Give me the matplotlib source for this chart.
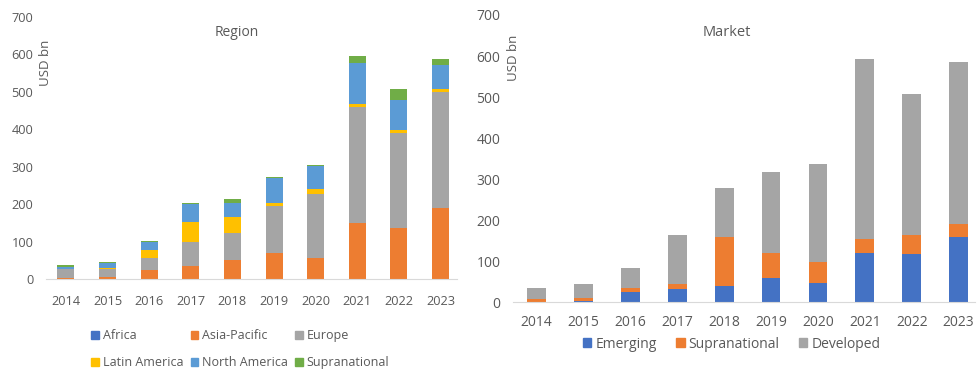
import numpy as np
from matplotlib import pyplot as plt
from matplotlib.patches import Patch

plt.rcParams['font.family'] = ['Open Sans', 'DejaVu Sans']

years = ['2014', '2015', '2016', '2017', '2018', '2019', '2020', '2021', '2022', '2023']

# issuance by region, USD bn
africa = [0.5, 0.5, 0.5, 0.5, 0.5, 0.5, 0.5, 1, 1, 1]
asia_pacific = [2, 5, 25, 34, 50, 69, 56, 149, 137, 189]
europe = [24, 23, 32, 66, 74, 127, 171, 308, 251, 310]
latin_america = [0.5, 0.5, 21, 51, 41, 8, 12, 8, 8, 7]
north_america = [7, 15, 20, 50, 39, 65, 62, 110, 82, 65]
supranational_r = [3, 1, 4, 3, 9, 3, 3, 19, 29, 16]

# issuance by market, USD bn
emerging = [1, 2, 25, 32, 40, 59, 46, 121, 117, 158]
supranational_m = [6, 8, 11, 12, 119, 60, 52, 33, 47, 32]
developed = [28, 35, 48, 119, 119, 199, 240, 438, 344, 396]

c_blue = '#4472C4'
c_orange = '#ED7D31'
c_gray = '#A5A5A5'
c_gold = '#FFC000'
c_lblue = '#5B9BD5'
c_green = '#70AD47'
txt = '#595959'

fig = plt.figure(figsize=(9.77, 3.74), dpi=100)


def setup(ax, xlim, fs, xpad):
    ax.set_ylim(0, 700)
    ax.set_yticks(range(0, 701, 100))
    ax.set_xlim(*xlim)
    for s in ['top', 'right', 'left']:
        ax.spines[s].set_visible(False)
    ax.spines['bottom'].set_color('#D9D9D9')
    ax.tick_params(length=0, colors=txt, labelsize=fs)
    ax.tick_params(axis='x', pad=xpad)
    ax.tick_params(axis='y', pad=9)
    ax.patch.set_alpha(0)


# Region
ax1 = fig.add_axes([0.047, 0.2532, 0.421, 0.7021])
x = np.arange(len(years))
bottom = np.zeros(len(years))
region = [('Africa', africa, c_blue), ('Asia-Pacific', asia_pacific, c_orange),
          ('Europe', europe, c_gray), ('Latin America', latin_america, c_gold),
          ('North America', north_america, c_lblue), ('Supranational', supranational_r, c_green)]
for name, vals, col in region:
    ax1.bar(x, vals, 0.41, bottom=bottom, color=col, label=name)
    bottom += np.array(vals)
ax1.set_xticks(x)
ax1.set_xticklabels(years)
setup(ax1, (-0.48, 9.4), 9.2, 11)
ax1.text(0.465, 0.94, 'Region', transform=ax1.transAxes, ha='center', va='center',
         fontsize=10, color=txt)
fig.text(0.047, 0.832, 'USD bn', rotation=90, ha='center', va='center', fontsize=9.5, color=txt)

order = [0, 3, 1, 4, 2, 5]
handles = [Patch(color=region[i][2], label=region[i][0]) for i in order]
fig.legend(handles=handles, ncol=3, loc='center', bbox_to_anchor=(0.246, 0.066),
           frameon=False, fontsize=9, handlelength=0.6, handleheight=0.6,
           handletextpad=0.3, columnspacing=0.6, labelspacing=1.1, labelcolor=txt)

# Market
ax2 = fig.add_axes([0.525, 0.1917, 0.473, 0.7683])
bottom = np.zeros(len(years))
market = [('Emerging', emerging, c_blue), ('Supranational', supranational_m, c_orange),
          ('Developed', developed, c_gray)]
for name, vals, col in market:
    ax2.bar(x, vals, 0.4, bottom=bottom, color=col, label=name)
    bottom += np.array(vals)
ax2.set_xticks(x)
ax2.set_xticklabels(years)
setup(ax2, (-0.505, 9.35), 10, 9)
ax2.text(0.462, 0.94, 'Market', transform=ax2.transAxes, ha='center', va='center',
         fontsize=10.5, color=txt)
fig.text(0.526, 0.845, 'USD bn', rotation=90, ha='center', va='center', fontsize=9.5, color=txt)

fig.legend(handles=[Patch(color=c, label=n) for n, v, c in market], ncol=3, loc='center',
           bbox_to_anchor=(0.749, 0.08), frameon=False, fontsize=10, handlelength=0.6,
           handleheight=0.6, handletextpad=0.3, columnspacing=1.4, labelcolor=txt)

plt.savefig('out.png', dpi=100)
